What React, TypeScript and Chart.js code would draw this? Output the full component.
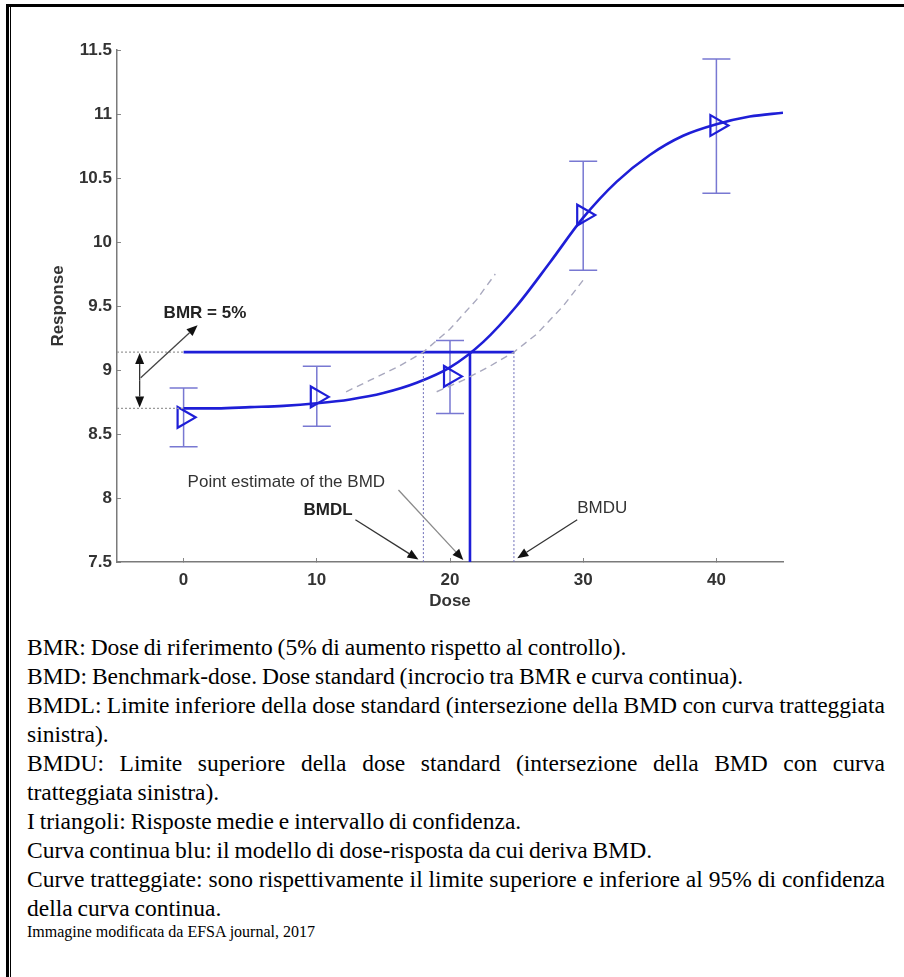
import React, { useEffect, useRef } from "react";
import { Chart, registerables } from "chart.js";
Chart.register(...registerables);

const FAMILY = "'Liberation Sans', Arial, Helvetica, sans-serif";

// axes
const doseTicks = [0, 10, 20, 30, 40];
const responseTicks = [7.5, 8, 8.5, 9, 9.5, 10, 10.5, 11, 11.5];

// observed means with confidence intervals
const obsDose = [0, 10, 20, 30, 40];
const obsMean = [8.63, 8.79, 8.95, 10.21, 10.91];
const obsLow = [8.4, 8.56, 8.66, 9.78, 10.38];
const obsHigh = [8.86, 9.03, 9.23, 10.63, 11.43];

// fitted dose-response curve
const fitDose = [0, 2.5, 5, 7.5, 10, 12.5, 15, 17.5, 20, 22.5, 25, 27.5, 30, 32.5, 35, 37.5, 40, 42.5, 45];
const fitResp = [8.7, 8.7, 8.71, 8.72, 8.74, 8.77, 8.82, 8.9, 9.02, 9.22, 9.5, 9.84, 10.19, 10.47, 10.68, 10.83, 10.92, 10.98, 11.01];

// confidence bounds (dashed)
const upperDose = [12.2, 14, 16, 18, 20, 22, 23.4];
const upperResp = [8.83, 8.92, 9.02, 9.14, 9.32, 9.55, 9.75];
const lowerDose = [19, 21, 23, 24.8, 26.5, 28.5, 30.2];
const lowerResp = [8.83, 8.92, 9.03, 9.14, 9.28, 9.5, 9.73];

// benchmark values
const controlLevel = 8.7;
const bmrLevel = 9.14;
const bmd = 21.5;
const bmdl = 18.0;
const bmdu = 24.8;
const axisMinDose = -5;
const axisMaxDose = 45;
const axisMinResp = 7.5;
const axisMaxResp = 11.5;

// annotations (data coordinates)
const noteTexts = ["BMR = 5%", "Point estimate of the BMD", "BMDL", "BMDU"];
const noteX = [-1.5, 0.3, 9.0, 29.55];
const noteY = [9.445, 8.125, 7.906, 7.92];
const noteBold = [true, false, true, false];

const arrowX0 = [-3.22, 16.13, 12.9, 29.55];
const arrowY0 = [8.94, 8.0625, 7.83, 7.83];
const arrowX1 = [1.05, 21.0, 17.63, 25.05];
const arrowY1 = [9.35, 7.516, 7.52, 7.53];
const arrowLineColors = ["#444", "#8a8a8a", "#333", "#333"];
const doubleArrowX = -3.3;

const captionLines = [
  "BMR: Dose di riferimento (5% di aumento rispetto al controllo).",
  "BMD: Benchmark-dose. Dose standard (incrocio tra BMR e curva continua).",
  "BMDL: Limite inferiore della dose standard (intersezione della BMD con curva tratteggiata sinistra).",
  "BMDU: Limite superiore della dose standard (intersezione della BMD con curva tratteggiata sinistra).",
  "I triangoli: Risposte medie e intervallo di confidenza.",
  "Curva continua blu: il modello di dose-risposta da cui deriva BMD.",
  "Curve tratteggiate: sono rispettivamente il limite superiore e inferiore al 95% di confidenza della curva continua.",
];
const sourceLine = "Immagine modificata da EFSA journal, 2017";

const BLUE = "rgb(30,30,215)";
const ERR = "rgb(120,120,210)";

function drawArrow(ctx: CanvasRenderingContext2D, x0: number, y0: number, x1: number, y1: number, lineColor: string, headColor: string) {
  const ang = Math.atan2(y1 - y0, x1 - x0);
  const L = 11, W = 4.5;
  const bx = x1 - L * Math.cos(ang);
  const by = y1 - L * Math.sin(ang);
  ctx.save();
  ctx.strokeStyle = lineColor;
  ctx.lineWidth = 1.3;
  ctx.beginPath();
  ctx.moveTo(x0, y0);
  ctx.lineTo(bx, by);
  ctx.stroke();
  ctx.fillStyle = headColor;
  ctx.beginPath();
  ctx.moveTo(x1, y1);
  ctx.lineTo(bx + W * Math.sin(ang), by - W * Math.cos(ang));
  ctx.lineTo(bx - W * Math.sin(ang), by + W * Math.cos(ang));
  ctx.closePath();
  ctx.fill();
  ctx.restore();
}

const notesPlugin = {
  id: "notes",
  beforeDatasetsDraw(chart: any) {
    const { ctx } = chart;
    const xs = chart.scales.x;
    const ys = chart.scales.y;
    ctx.save();
    ctx.strokeStyle = ERR;
    ctx.lineWidth = 1.5;
    for (let i = 0; i < obsDose.length; i++) {
      const px = xs.getPixelForValue(obsDose[i]);
      const pl = ys.getPixelForValue(obsLow[i]);
      const ph = ys.getPixelForValue(obsHigh[i]);
      ctx.beginPath();
      ctx.moveTo(px, pl);
      ctx.lineTo(px, ph);
      ctx.moveTo(px - 14, pl);
      ctx.lineTo(px + 14, pl);
      ctx.moveTo(px - 14, ph);
      ctx.lineTo(px + 14, ph);
      ctx.stroke();
    }
    ctx.restore();
  },
  afterDatasetsDraw(chart: any) {
    const { ctx } = chart;
    const xs = chart.scales.x;
    const ys = chart.scales.y;
    for (let i = 0; i < arrowX0.length; i++) {
      drawArrow(
        ctx,
        xs.getPixelForValue(arrowX0[i]),
        ys.getPixelForValue(arrowY0[i]),
        xs.getPixelForValue(arrowX1[i]),
        ys.getPixelForValue(arrowY1[i]),
        arrowLineColors[i],
        "#111"
      );
    }
    // double-headed arrow for BMR
    const dx = xs.getPixelForValue(doubleArrowX);
    const yTop = ys.getPixelForValue(bmrLevel);
    const yBot = ys.getPixelForValue(controlLevel);
    const mid = (yTop + yBot) / 2;
    drawArrow(ctx, dx, mid, dx, yTop + 1, "#333", "#111");
    drawArrow(ctx, dx, mid, dx, yBot - 1, "#333", "#111");

    ctx.save();
    ctx.textBaseline = "middle";
    ctx.textAlign = "left";
    for (let i = 0; i < noteTexts.length; i++) {
      ctx.font = `${noteBold[i] ? "bold " : ""}17px ${FAMILY}`;
      ctx.fillStyle = noteBold[i] ? "#222" : "#333";
      ctx.fillText(noteTexts[i], xs.getPixelForValue(noteX[i]), ys.getPixelForValue(noteY[i]));
    }
    ctx.restore();
  },
};

function ChartBox() {
  const ref = useRef<HTMLCanvasElement | null>(null);
  useEffect(() => {
    if (!ref.current) return;
    const pts = (xs: number[], ys: number[]) => xs.map((x, i) => ({ x, y: ys[i] }));
    const lineDs = (data: any[], color: string, width: number, dash: number[] = []) => ({
      type: "line" as const,
      data,
      borderColor: color,
      borderWidth: width,
      borderDash: dash,
      pointRadius: 0,
      fill: false,
      tension: 0,
    });
    const chart = new Chart(ref.current, {
      type: "line",
      data: {
        datasets: [
          lineDs([{ x: axisMinDose, y: bmrLevel }, { x: 0, y: bmrLevel }], "#9a9a9a", 1.2, [2, 2]),
          lineDs([{ x: axisMinDose, y: controlLevel }, { x: 0, y: controlLevel }], "#9a9a9a", 1.2, [2, 2]),
          lineDs([{ x: bmdl, y: bmrLevel }, { x: bmdl, y: axisMinResp }], "rgb(110,110,185)", 1, [2, 2]),
          lineDs([{ x: bmdu, y: bmrLevel }, { x: bmdu, y: axisMinResp }], "rgb(110,110,185)", 1, [2, 2]),
          lineDs(pts(upperDose, upperResp), "rgb(168,168,190)", 1.4, [7, 5]),
          lineDs(pts(lowerDose, lowerResp), "rgb(168,168,190)", 1.4, [7, 5]),
          lineDs([{ x: 0, y: bmrLevel }, { x: bmdu, y: bmrLevel }], BLUE, 2.6),
          lineDs([{ x: bmd, y: bmrLevel }, { x: bmd, y: axisMinResp }], BLUE, 2.6),
          {
            ...lineDs(pts(fitDose, fitResp), BLUE, 2.6),
            cubicInterpolationMode: "monotone",
          } as any,
          {
            type: "scatter" as const,
            data: pts(obsDose, obsMean),
            showLine: false,
            pointStyle: "triangle",
            rotation: 90,
            pointRadius: 12,
            pointBorderWidth: 2.2,
            pointBorderColor: BLUE,
            pointBackgroundColor: "rgba(255,255,255,0)",
            borderColor: BLUE,
          } as any,
        ],
      },
      options: {
        responsive: false,
        maintainAspectRatio: false,
        animation: false,
        events: [],
        layout: { padding: { left: 0, right: 121, top: 50, bottom: 0 } },
        plugins: { legend: { display: false }, tooltip: { enabled: false } },
        scales: {
          x: {
            type: "linear",
            min: axisMinDose,
            max: axisMaxDose,
            afterBuildTicks: (s: any) => {
              s.ticks = doseTicks.map((v) => ({ value: v }));
            },
            afterFit: (s: any) => {
              s.height = 58;
            },
            grid: { display: true, drawOnChartArea: false, drawTicks: true, tickLength: -4, tickColor: "#888", tickWidth: 1 },
            border: { display: true, color: "#7a7a7a", width: 1.5 },
            ticks: {
              padding: 11.8,
              color: "#333",
              font: { size: 17, weight: "bold", family: FAMILY },
              maxRotation: 0,
              autoSkip: false,
              callback: (v: any) => String(v),
            },
            title: {
              display: true,
              text: "Dose",
              color: "#333",
              font: { size: 17, weight: "bold", family: FAMILY },
              padding: { top: 0, bottom: 8.5 },
            },
          },
          y: {
            type: "linear",
            min: axisMinResp,
            max: axisMaxResp,
            afterBuildTicks: (s: any) => {
              s.ticks = responseTicks.map((v) => ({ value: v }));
            },
            afterFit: (s: any) => {
              s.width = 117;
            },
            grid: { display: true, drawOnChartArea: false, drawTicks: true, tickLength: -4, tickColor: "#888", tickWidth: 1 },
            border: { display: true, color: "#7a7a7a", width: 1.5 },
            ticks: {
              padding: 9,
              color: "#333",
              font: { size: 17, weight: "bold", family: FAMILY },
              autoSkip: false,
              callback: (v: any) => String(v),
            },
            title: {
              display: true,
              text: "Response",
              color: "#333",
              font: { size: 17, weight: "bold", family: FAMILY },
              padding: { top: 47.8, bottom: 0 },
            },
          },
        },
      } as any,
      plugins: [notesPlugin],
    });
    return () => chart.destroy();
  }, []);
  return (
    <div style={{ position: "absolute", left: 0, top: 0, width: 904, height: 607, overflow: "hidden" }}>
      <canvas ref={ref} width={904} height={620} style={{ width: 904, height: 620, display: "block" }} />
    </div>
  );
}

export default function App() {
  return (
    <div style={{ position: "absolute", left: 0, top: 0, width: 904, height: 977, background: "#fff", overflow: "hidden" }}>
      {/* frame */}
      <div style={{ position: "absolute", left: 6, top: 4, width: 898, height: 3, background: "#000" }} />
      <div style={{ position: "absolute", left: 6, top: 4, width: 3, height: 973, background: "#000" }} />
      <div style={{ position: "absolute", left: 10, top: 7, width: 1, height: 970, background: "#000" }} />
      <ChartBox />
      <div
        style={{
          position: "absolute",
          left: 27,
          top: 633,
          width: 858,
          fontFamily: "'Liberation Serif', 'Times New Roman', serif",
          fontSize: 23.5,
          lineHeight: "29px",
          wordSpacing: -1,
          color: "#000",
          textAlign: "justify",
        }}
      >
        {captionLines.map((t, i) => (
          <div key={i} style={{ textAlign: "justify", textAlignLast: "left" }}>
            {t}
          </div>
        ))}
        <div style={{ fontSize: 16, lineHeight: "17px", marginTop: 0, wordSpacing: 0 }}>{sourceLine}</div>
      </div>
    </div>
  );
}
